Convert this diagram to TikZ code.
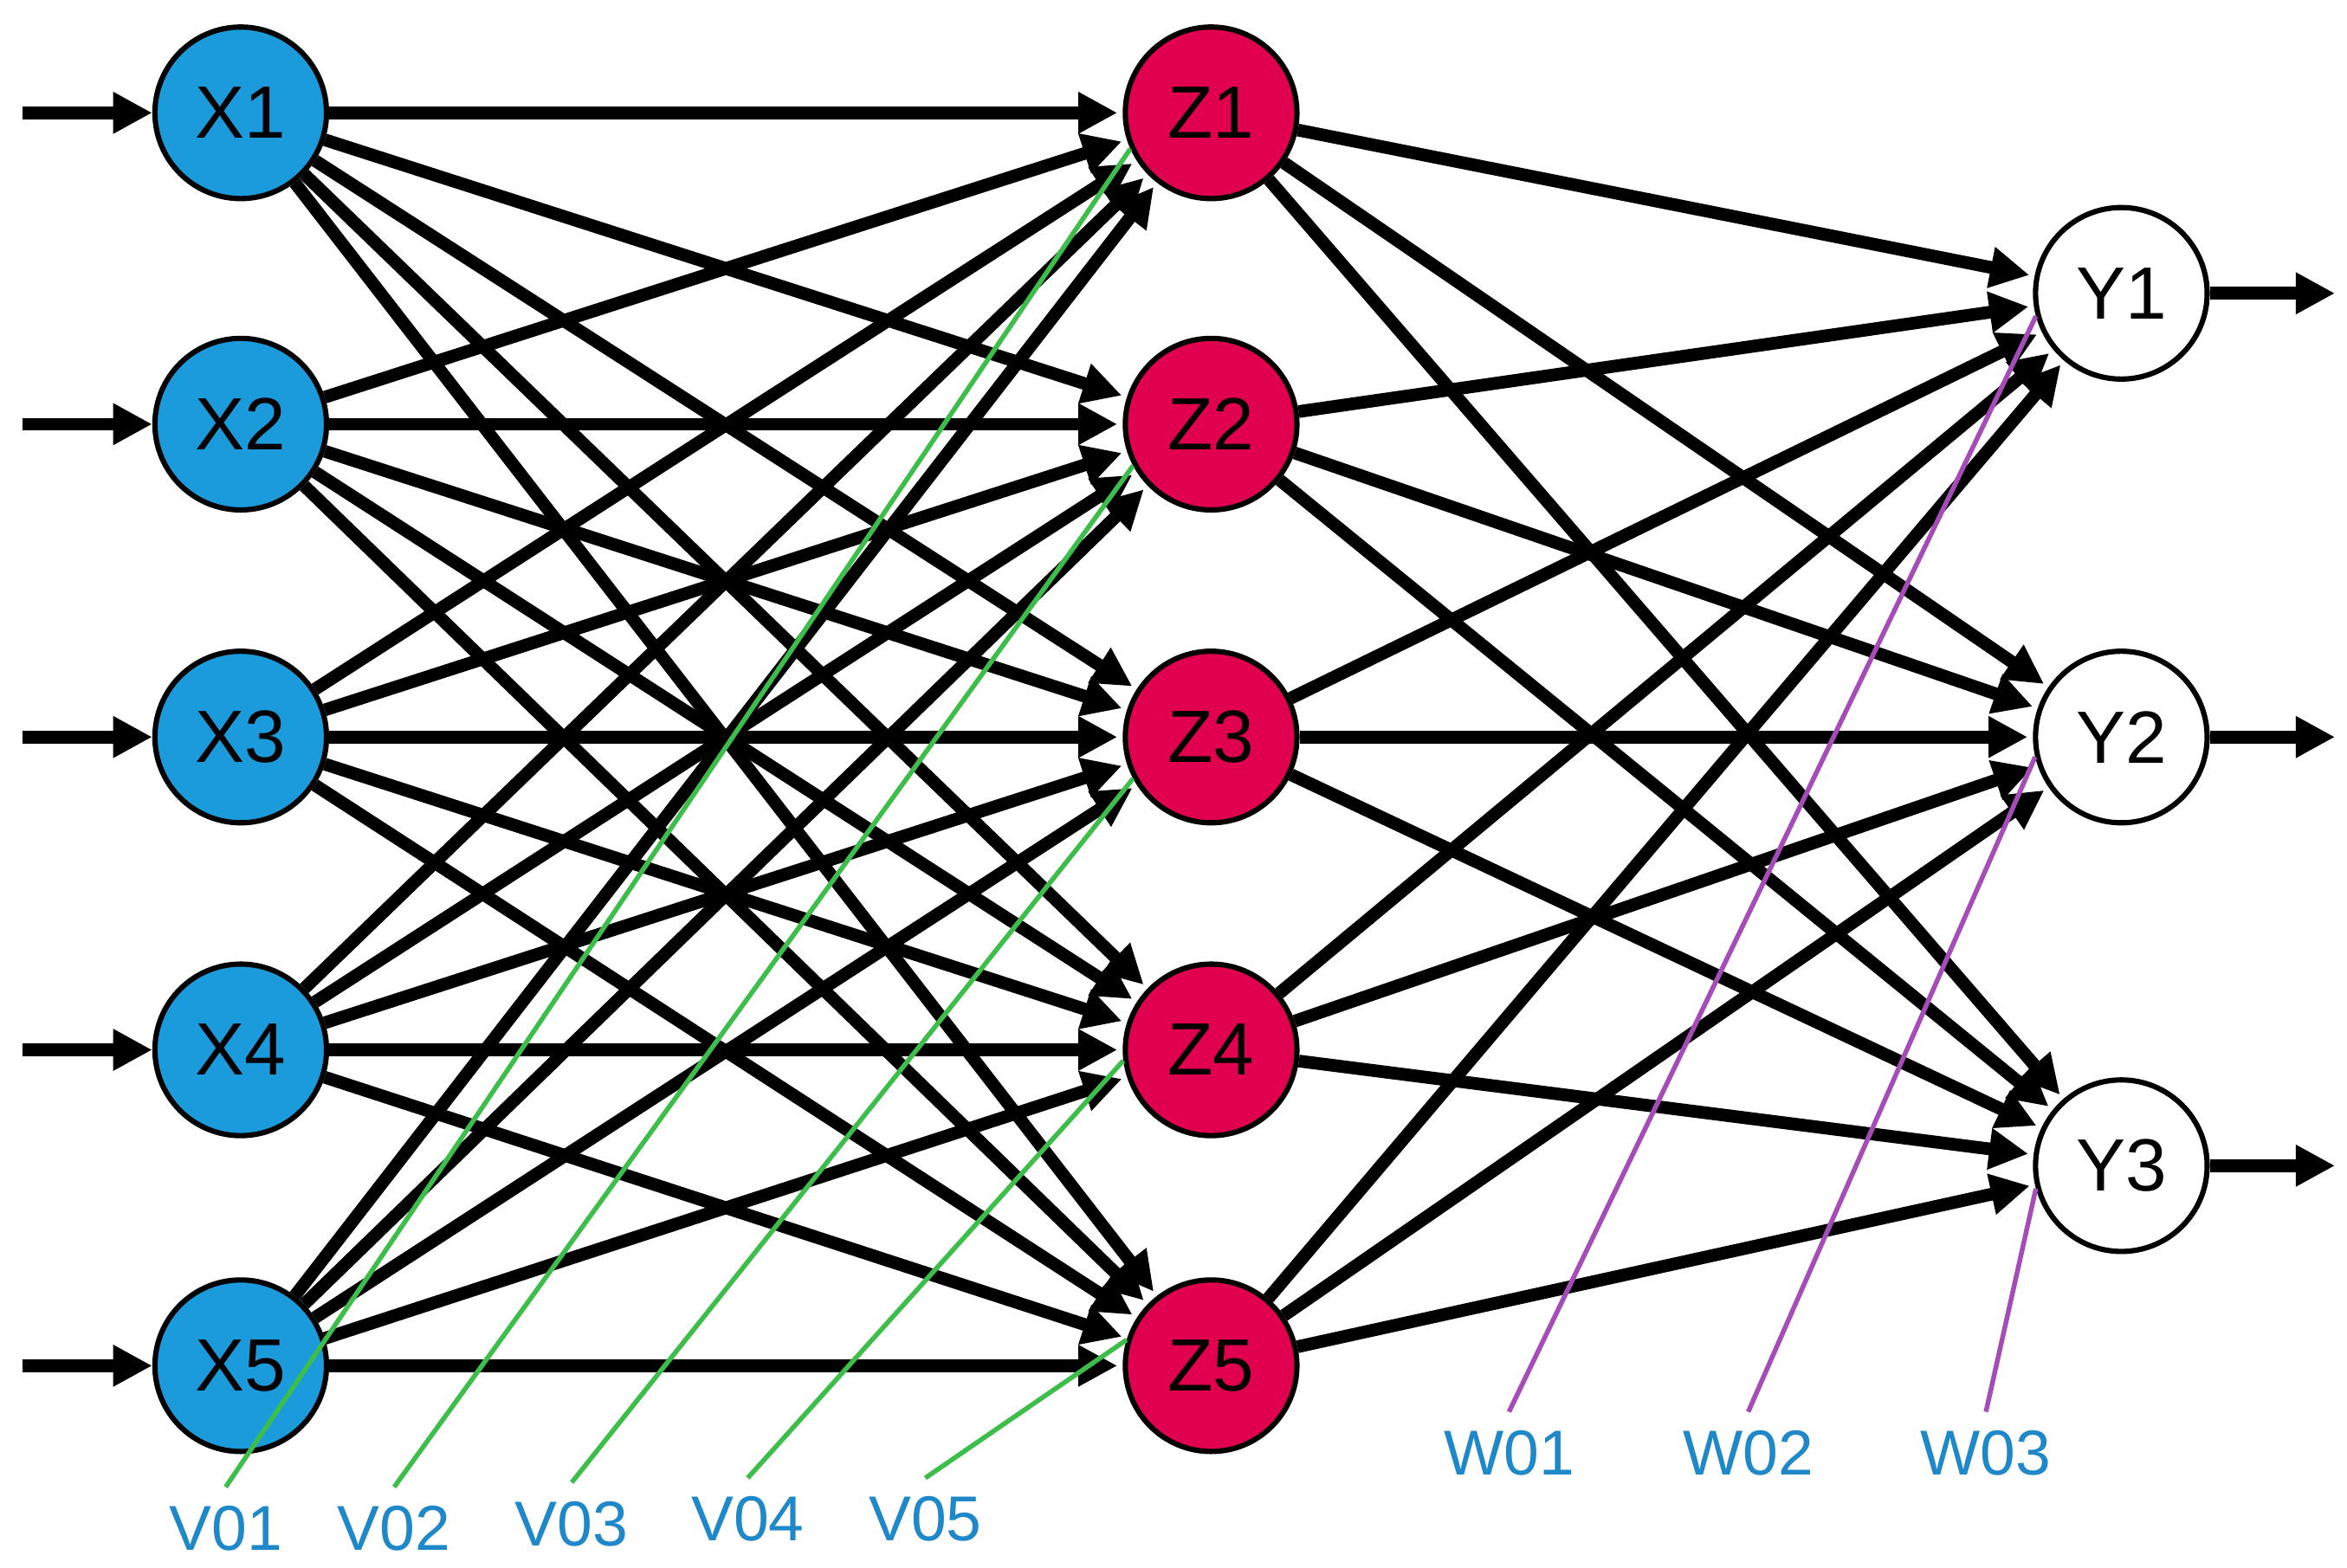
\documentclass[tikz,border=0pt]{standalone}
\usepackage{fontspec}
\setmainfont{Liberation Sans}
\usetikzlibrary{arrows.meta}
\definecolor{xb}{HTML}{1B9BDB}
\definecolor{zr}{HTML}{E0004F}
\definecolor{lb}{HTML}{1E88C8}
\definecolor{gl}{HTML}{3DBE4A}
\definecolor{pl}{HTML}{A64CB8}
\begin{document}
\begin{tikzpicture}[x=0.01cm,y=-0.01cm,
  neu/.style={circle,draw=black,line width=1pt,minimum size=1.14cm,inner sep=0pt,font=\fontsize{14}{14}\selectfont},
  ar/.style={line width=2.4pt,-{Triangle[length=2.6mm,width=2.6mm]},shorten >=1pt},
  lab/.style={text=lb,font=\fontsize{12}{12}\selectfont},
  gr/.style={gl,line width=0.9pt},
  pu/.style={pl,line width=0.9pt}]
\useasboundingbox (0,0) rectangle (1560,1042);
\foreach \i/\y in {1/75,2/282,3/490,4/698,5/908}{
  \node[neu,fill=xb] (x\i) at (160,\y) {X\i};
  \node[neu,fill=zr] (z\i) at (805,\y) {Z\i};
  \coordinate (in\i) at (15,\y);
}
\foreach \i/\y in {1/195,2/490,3/775}{
  \node[neu,fill=white] (y\i) at (1410,\y) {Y\i};
  \coordinate (out\i) at (1552,\y);
}
\foreach \i in {1,...,5}{
  \draw[ar,shorten >=0pt] (in\i) -- (x\i);
  \foreach \j in {1,...,5}{\draw[ar] (x\i) -- (z\j);}
  \foreach \k in {1,2,3}{\draw[ar] (z\i) -- (y\k);}
}
\foreach \k in {1,2,3}{\draw[ar,shorten >=0pt] (y\k) -- (out\k);}
\node[lab] (v1) at (150,1016) {V01};
\node[lab] (v2) at (262,1016) {V02};
\node[lab] (v3) at (380,1013) {V03};
\node[lab] (v4) at (497,1010) {V04};
\node[lab] (v5) at (615,1010) {V05};
\node[lab] (w1) at (1003,966) {W01};
\node[lab] (w2) at (1162,966) {W02};
\node[lab] (w3) at (1320,966) {W03};
\draw[gr] (v1.north) -- (z1.-156);
\draw[gr] (v2.north) -- (z2.-152);
\draw[gr] (v3.north) -- (z3.-152);
\draw[gr] (v4.north) -- (z4.-173);
\draw[gr] (v5.north) -- (z5.163);
\draw[pu] (w1.north) -- (y1.-165);
\draw[pu] (w2.north) -- (y2.-167);
\draw[pu] (w3.north) -- (y3.-165);
\end{tikzpicture}
\end{document}
